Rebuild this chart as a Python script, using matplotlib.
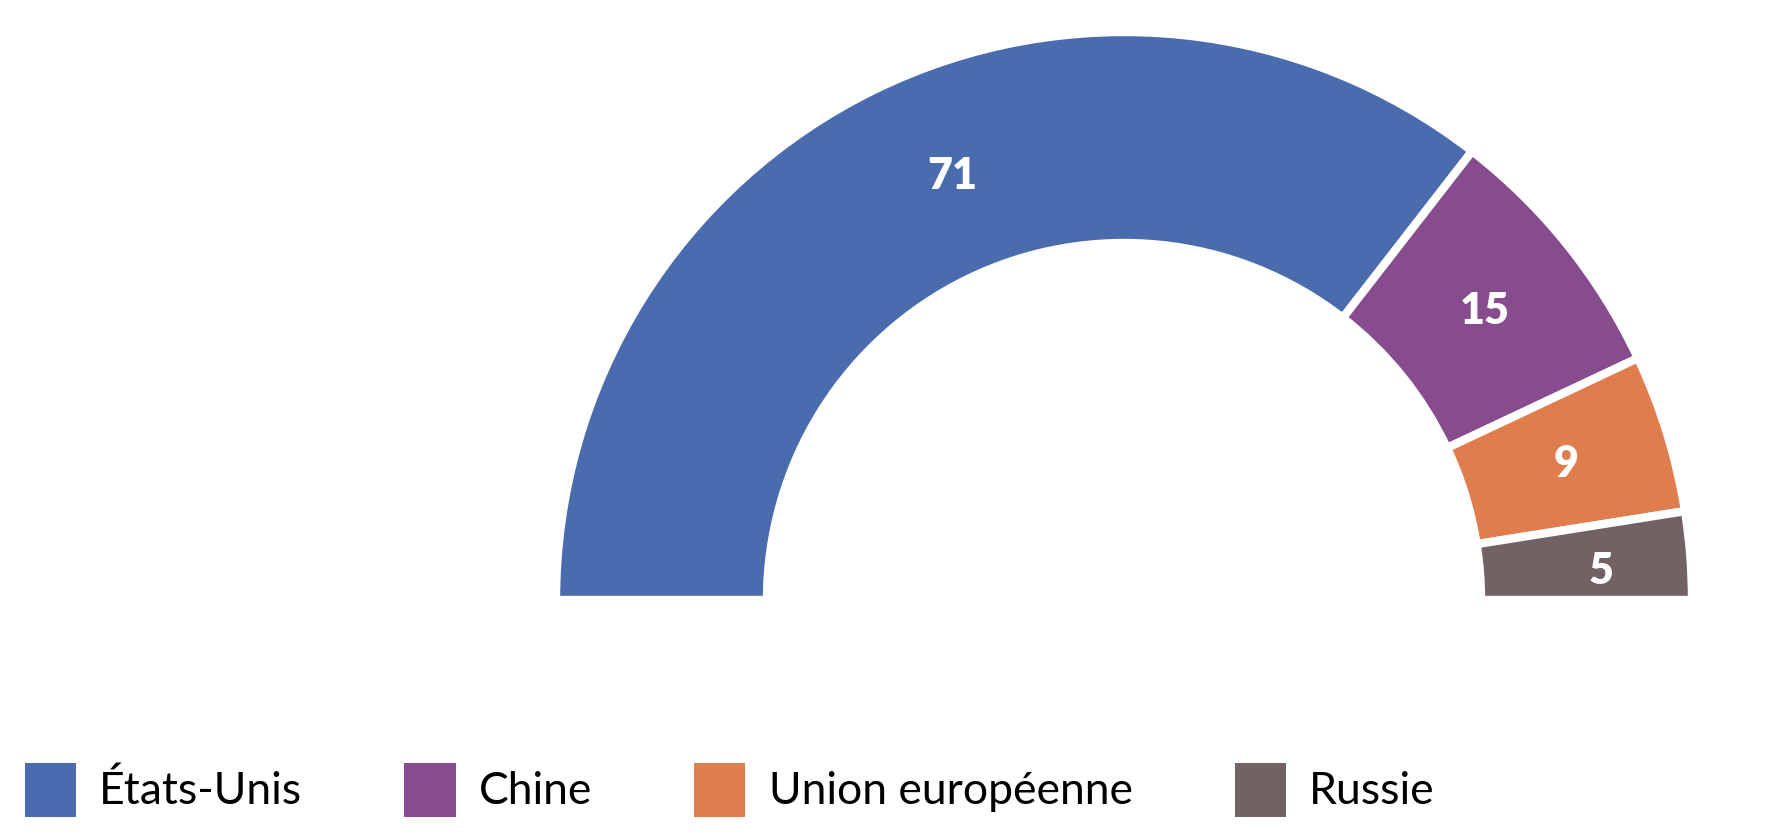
import numpy as np
import matplotlib.pyplot as plt
from matplotlib.patches import Patch

# Data
pays = ["États-Unis", "Chine", "Union européenne", "Russie"]
valeurs = [71, 15, 9, 5]
couleurs = ["#4A6BAD", "#874C8E", "#E07D4F", "#736264"]

plt.rcParams['font.family'] = ['Lato', 'DejaVu Sans']

fig = plt.figure(figsize=(17.88, 8.38), dpi=100)
ax = fig.add_axes([0, 0, 1, 1])

# half donut: add an invisible half for the lower part
centre = (1124, 238)
rayon = 568
largeur = 211
wedges, _ = ax.pie(valeurs + [sum(valeurs)], colors=couleurs + ["none"],
                   startangle=180, counterclock=False, center=centre, radius=rayon,
                   wedgeprops=dict(width=largeur, edgecolor="white", linewidth=6))
wedges[-1].set_edgecolor("none")

# values in the middle of each wedge (small nudges: angle in deg, radius in px)
decalage_angle = [-4, 0, 0, -1]
decalage_rayon = [-5, 0, 0, 15]
r_lab = rayon - largeur / 2
for w, v, da, dr in zip(wedges[:-1], valeurs, decalage_angle, decalage_rayon):
    ang = np.deg2rad((w.theta1 + w.theta2) / 2 + da)
    r = r_lab + dr
    ax.text(centre[0] + r * np.cos(ang), centre[1] + r * np.sin(ang), str(v),
            color="white", fontsize=31, fontweight="heavy", ha="center", va="center")

ax.set_xlim(0, 1788)
ax.set_ylim(0, 838)
ax.set_aspect("equal")
ax.axis("off")

# Legend
handles = [Patch(facecolor=c, edgecolor="none") for c in couleurs]
fig.legend(handles, pays, loc="lower left", bbox_to_anchor=(0.004, 0.004), ncol=4,
           frameon=False, fontsize=32, handlelength=1.15, handleheight=1.5,
           handletextpad=0.52, columnspacing=2.3, borderaxespad=0)

fig.savefig("out.png", dpi=100)
